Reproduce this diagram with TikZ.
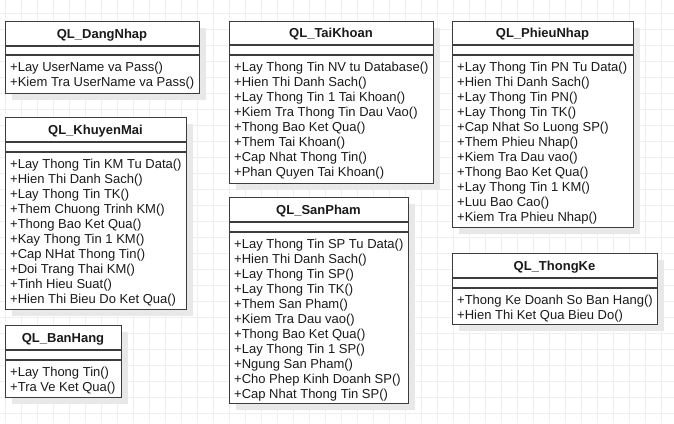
\documentclass[tikz,border=0pt]{standalone}
\usepackage{fontspec}
\setmainfont{Liberation Sans}
\definecolor{gridc}{HTML}{EFEFEF}
\definecolor{shadowc}{HTML}{E8E8E8}
\definecolor{linec}{HTML}{3C3C3C}
\definecolor{textc}{HTML}{1A1A1A}
\tikzset{
  classframe/.style={draw=linec, line width=1.3pt, fill=white, inner sep=0pt, rectangle, anchor=north west},
  sepline/.style={draw=linec, line width=1.3pt},
  titletext/.style={font=\fontsize{13}{15}\selectfont\bfseries, text=textc, inner sep=0pt, anchor=base},
  methodtext/.style={font=\fontsize{13}{15}\selectfont, text=textc, inner sep=0pt, align=left, anchor=north west},
}
\newcommand\umlclass[9]{%
  \fill[shadowc] (#2+6.5,#3+6.5) rectangle (#4+6.5,#5+6.5);
  \node[classframe, minimum width={(#4-#2)*1pt}, minimum height={(#5-#3)*1pt}] (#1) at (#2,#3) {};
  \draw[sepline] (#2,#6) -- (#4,#6);
  \draw[sepline] (#2,#7) -- (#4,#7);
  \node[titletext] (#1-title) at ({(#2+#4)/2},{(#3+#6)/2+4.8}) {#8};
  \node[methodtext] (#1-ops) at (#2+5,#7+6.5) {#9};
}
\begin{document}
\begin{tikzpicture}[x=1pt,y=-1pt]
\useasboundingbox (0,0) rectangle (674,423);
\fill[white] (0,0) rectangle (674,423);
\foreach \gx in {5,21,...,670} \draw[gridc, line width=0.8pt] (\gx,0) -- (\gx,423);
\foreach \gy in {13,29,...,420} \draw[gridc, line width=0.8pt] (0,\gy) -- (674,\gy);

\umlclass{dn}{5}{21}{199}{93}{46}{55}{QL\_DangNhap}{+Lay UserName va Pass()\\+Kiem Tra UserName va Pass()}
\umlclass{km}{5}{117}{186}{309}{142}{152}{QL\_KhuyenMai}{+Lay Thong Tin KM Tu Data()\\+Hien Thi Danh Sach()\\+Lay Thong Tin TK()\\+Them Chuong Trinh KM()\\+Thong Bao Ket Qua()\\+Kay Thong Tin 1 KM()\\+Cap NHat Thong Tin()\\+Doi Trang Thai KM()\\+Tinh Hieu Suat()\\+Hien Thi Bieu Do Ket Qua()}
\umlclass{bh}{5}{325}{121}{397}{350}{360}{QL\_BanHang}{+Lay Thong Tin()\\+Tra Ve Ket Qua()}
\umlclass{tk}{229}{21}{433}{183}{45}{55}{QL\_TaiKhoan}{+Lay Thong Tin NV tu Database()\\+Hien Thi Danh Sach()\\+Lay Thong Tin 1 Tai Khoan()\\+Kiem Tra Thong Tin Dau Vao()\\+Thong Bao Ket Qua()\\+Them Tai Khoan()\\+Cap Nhat Thong Tin()\\+Phan Quyen Tai Khoan()}
\umlclass{sp}{229}{197}{408}{403}{222}{232}{QL\_SanPham}{+Lay Thong Tin SP Tu Data()\\+Hien Thi Danh Sach()\\+Lay Thong Tin SP()\\+Lay Thong Tin TK()\\+Them San Pham()\\+Kiem Tra Dau vao()\\+Thong Bao Ket Qua()\\+Lay Thong Tin 1 SP()\\+Ngung San Pham()\\+Cho Phep Kinh Doanh SP()\\+Cap Nhat Thong Tin SP()}
\umlclass{pn}{452}{21}{633}{227}{45}{55}{QL\_PhieuNhap}{+Lay Thong Tin PN Tu Data()\\+Hien Thi Danh Sach()\\+Lay Thong Tin PN()\\+Lay Thong Tin TK()\\+Cap Nhat So Luong SP()\\+Them Phieu Nhap()\\+Kiem Tra Dau vao()\\+Thong Bao Ket Qua()\\+Lay Thong Tin 1 KM()\\+Luu Bao Cao()\\+Kiem Tra Phieu Nhap()}
\umlclass{thk}{452}{253}{657}{324}{278}{288}{QL\_ThongKe}{+Thong Ke Doanh So Ban Hang()\\+Hien Thi Ket Qua Bieu Do()}
\end{tikzpicture}
\end{document}
